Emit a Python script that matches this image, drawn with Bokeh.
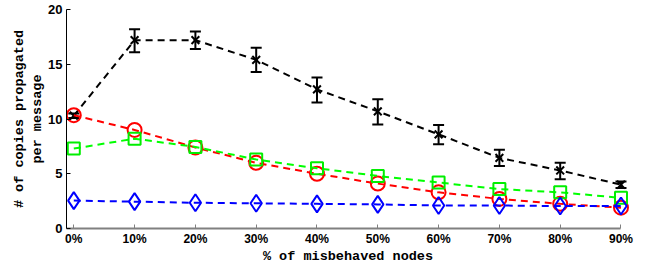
from bokeh.plotting import figure
from bokeh.models import Range1d, FixedTicker, ColumnDataSource, Whisker, TeeHead
from bokeh.embed import file_html
from bokeh.resources import INLINE

x = [0, 10, 20, 30, 40, 50, 60, 70, 80, 90]
tick_labels = ["0%", "10%", "20%", "30%", "40%", "50%", "60%", "70%", "80%", "90%"]
black = [10.3, 17.2, 17.2, 15.4, 12.7, 10.7, 8.6, 6.45, 5.3, 4.0]
black_lo = [10.1, 16.1, 16.4, 14.3, 11.5, 9.5, 7.7, 5.7, 4.5, 3.7]
black_hi = [10.5, 18.2, 18.0, 16.5, 13.8, 11.8, 9.45, 7.2, 6.0, 4.3]
red = [10.35, 9.0, 7.4, 6.0, 5.0, 4.1, 3.3, 2.7, 2.25, 1.9]
green = [7.3, 8.2, 7.45, 6.3, 5.5, 4.8, 4.2, 3.6, 3.3, 2.8]
blue = [2.55, 2.45, 2.35, 2.3, 2.25, 2.2, 2.1, 2.1, 2.05, 2.05]

p = figure(width=645, height=270, output_backend="svg", toolbar_location=None,
           x_range=Range1d(-1.2, 91.4), y_range=Range1d(0, 20),
           min_border_left=66, min_border_right=16, min_border_top=9, min_border_bottom=42)
p.outline_line_color = None
p.xgrid.visible = False
p.ygrid.visible = False

dash = "7 5"
src = ColumnDataSource(dict(x=x, y=black, lo=black_lo, hi=black_hi))
p.line(x, black, color="black", line_width=2, line_dash=dash)
p.add_layout(Whisker(source=src, base="x", upper="hi", lower="lo", line_color="black", line_width=2,
                     upper_head=TeeHead(size=11, line_width=2, line_color="black"),
                     lower_head=TeeHead(size=11, line_width=2, line_color="black")))
p.scatter(x, black, marker="x", size=11, line_width=2, color="black")

p.line(x, red, color="red", line_width=2, line_dash=dash)
p.scatter(x, red, marker="circle", size=14, line_width=2, line_color="red", fill_color=None)

p.line(x, green, color="#00ff00", line_width=2, line_dash=dash)
p.scatter(x, green, marker="square", size=12, line_width=2, line_color="#00ee00", fill_color=None)

p.line(x, blue, color="blue", line_width=2, line_dash=dash)
p.scatter(x, blue, marker="diamond", size=17, line_width=2, line_color="blue", fill_color=None)

xa = p.xaxis[0]
xa.ticker = FixedTicker(ticks=x)
xa.major_label_overrides = {v: t for v, t in zip(x, tick_labels)}
xa.bounds = (-1.2, 90)
xa.axis_line_color = "#808080"
xa.axis_line_width = 2
xa.major_tick_line_color = "#808080"
xa.major_tick_in = 4
xa.major_tick_out = 0
xa.minor_tick_line_color = None
xa.major_label_text_font = "Liberation Sans"
xa.major_label_text_font_style = "bold"
xa.major_label_text_font_size = "12px"
xa.major_label_text_color = "black"
xa.major_label_standoff = 3
xa.axis_label = "% of misbehaved nodes"
xa.axis_label_text_font = "Liberation Mono"
xa.axis_label_text_font_style = "bold"
xa.axis_label_text_font_size = "13.5px"
xa.axis_label_text_color = "black"
xa.axis_label_standoff = 0

ya = p.yaxis[0]
ya.ticker = FixedTicker(ticks=[0, 5, 10, 15, 20])
ya.bounds = (0, 20)
ya.axis_line_color = "black"
ya.axis_line_width = 1
ya.major_tick_line_color = "black"
ya.major_tick_in = 4
ya.major_tick_out = 0
ya.minor_tick_line_color = None
ya.major_label_text_font = "Liberation Sans"
ya.major_label_text_font_style = "bold"
ya.major_label_text_font_size = "13px"
ya.major_label_text_color = "black"
ya.major_label_standoff = 4
ya.axis_label = "# of copies propagated\nper message"
ya.axis_label_text_font = "Liberation Mono"
ya.axis_label_text_font_style = "bold"
ya.axis_label_text_font_size = "13.5px"
ya.axis_label_text_color = "black"
ya.axis_label_standoff = 0

open("out.html", "w").write(file_html(p, INLINE))
